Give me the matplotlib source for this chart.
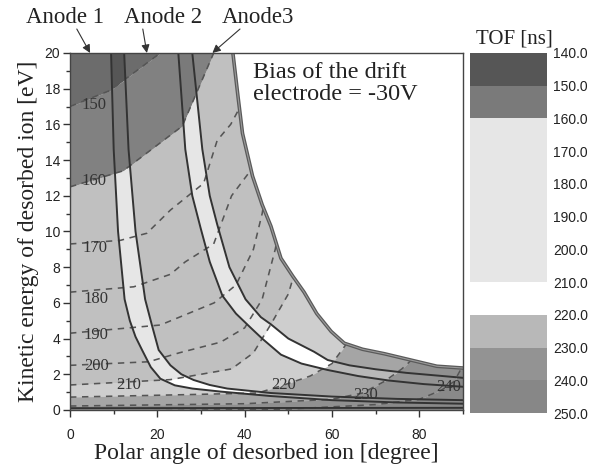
import numpy as np
import matplotlib.pyplot as plt
from matplotlib.ticker import MultipleLocator

plt.rcParams['font.family'] = 'Liberation Serif'

# TOF iso-lines [ns], read as (polar angle [deg], kinetic energy [eV])
tof_150 = [(0, 17.0), (9.2, 17.9), (20.7, 20.0), (25, 22.0), (90, 25.0)]
tof_160 = [(0, 12.5), (12.2, 13.4), (25.7, 15.9), (32.9, 20.0), (36, 23.0), (90, 25.0)]
tof_170 = [(0, 9.3), (11.5, 9.5), (17.6, 9.9), (23, 11.2), (30.6, 12.7), (33.7, 15.1),
           (36.8, 16.0), (39, 17.0), (41, 22.0), (90, 25.0)]
tof_180 = [(0, 6.6), (14.6, 6.9), (23, 7.6), (26.4, 8.3), (32.9, 9.3), (37, 12.0),
           (41, 13.3), (44, 17.0), (46, 22.0), (90, 25.0)]
tof_190 = [(0, 4.3), (20.7, 4.76), (33, 6.0), (38, 7.0), (42, 9.0), (44, 11.0),
           (46, 14.0), (90, 25.0)]
tof_200 = [(0, 2.5), (18, 2.7), (25, 3.2), (34.5, 3.8), (40, 4.6), (44, 6.2),
           (47, 9.0), (50, 13.0), (90, 25.0)]
tof_210 = [(0, 1.4), (23, 1.7), (37, 2.3), (42, 3.2), (46, 4.8), (50, 6.5),
           (53, 9.0), (56, 13.0), (90, 25.0)]
tof_220 = [(0, 0.72), (25, 0.85), (43, 0.95), (49, 1.4), (55, 1.9), (60, 2.6),
           (63, 3.6), (66, 5.5), (70, 9.0), (90, 25.0)]
tof_230 = [(0, 0.22), (40, 0.35), (60, 0.6), (67, 0.95), (72, 1.6), (76, 2.3),
           (80, 3.2), (85, 5.0), (90, 8.0)]
tof_240 = [(0, -0.1), (50, 0.05), (70, 0.3), (80, 0.6), (85, 1.1), (88, 1.6), (90, 2.5)]
tof_250 = [(0, -0.3), (90, -0.1)]

# anode boundaries (solid lines)
anode1_edge = [(9.4, 20), (10.0, 14.6), (11.0, 10.0), (12.5, 6.2), (13.7, 5.0), (15.0, 4.1),
               (16.5, 3.36), (18.5, 2.4), (20.7, 1.75), (24, 1.38), (28, 1.2), (34.5, 1.03),
               (46, 0.78), (60, 0.55), (75, 0.42), (90, 0.35)]
anode2_left = [(12.4, 20), (13.4, 14.6), (15.0, 10.0), (17.2, 6.2), (18.7, 4.8), (20.3, 3.36),
               (23, 2.5), (25.5, 2.0), (28.3, 1.68), (32, 1.4), (36, 1.2), (46, 0.95),
               (60, 0.75), (75, 0.62), (90, 0.55)]
anode2_right = [(24.8, 20), (26.4, 14.6), (28, 12), (29.9, 10.2), (32, 8.3), (34.9, 6.4),
                (38, 5.4), (41.4, 4.6), (44, 4.0), (48.3, 3.1), (53, 2.6), (59, 2.24),
                (66, 1.9), (73, 1.65), (81, 1.45), (90, 1.3)]
anode3_left = [(28, 20), (30.3, 14.6), (32, 12), (33.7, 10.4), (36.5, 8.0), (40.2, 6.2),
               (43.7, 5.2), (46, 4.8), (50, 4.0), (55.9, 3.26), (59, 2.8), (64, 2.5),
               (70, 2.28), (77, 2.08), (84, 1.93), (90, 1.8)]
bottom_edge = [(0, 0.1), (90, 0.12)]

# edge of the region where ions miss the detector
mask_edge = [(37.3, 20), (38.5, 17.5), (39.5, 15.5), (41.8, 13.1), (44, 11.5), (46, 10.3),
             (48.3, 8.5), (51, 7.5), (53.6, 6.6), (56.5, 5.4), (59.8, 4.4), (62.8, 3.74),
             (67, 3.4), (72, 3.15), (78, 2.8), (84, 2.45), (90, 2.35)]

cbar_levels = [140, 150, 160, 170, 180, 190, 200, 210, 220, 230, 240, 250]
cbar_colors = ['#565656', '#7a7a7a', '#e6e6e6', '#e6e6e6', '#e6e6e6', '#e6e6e6',
               '#e6e6e6', '#ffffff', '#b8b8b8', '#939393', '#878787']
below_color = '#707070'

label_values = [150, 160, 170, 180, 190, 200, 210, 220, 230, 240]
label_pos = [(5.6, 17.1), (5.6, 12.8), (5.7, 9.1), (6.0, 6.2), (6.0, 4.2), (6.2, 2.45),
             (13.4, 1.4), (49, 1.4), (67.6, 0.85), (86.7, 1.3)]

tof_lines = {150: tof_150, 160: tof_160, 170: tof_170, 180: tof_180, 190: tof_190,
             200: tof_200, 210: tof_210, 220: tof_220, 230: tof_230, 240: tof_240,
             250: tof_250}


def xy(pts):
    return [p[0] for p in pts], [p[1] for p in pts]


fig = plt.figure(figsize=(6, 4.68), dpi=100)
ax = fig.add_axes([0.1167, 0.124, 0.6550, 0.7628])

th = np.linspace(0, 90, 901)
upper = np.full_like(th, 20.0)
for lo, col in zip(cbar_levels[:-1], cbar_colors):
    a, e = xy(tof_lines[lo + 10])
    lower = np.clip(np.interp(th, a, e), 0, 20)
    ax.fill_between(th, lower, upper, color=col, lw=0, zorder=1)
    upper = lower
ax.fill_between(th, 0, upper, color=below_color, lw=0, zorder=1)

# anode areas are shaded darker, the gaps between anodes keep the plain colour
shade = dict(color='#8c8c8c', alpha=0.42, lw=0, zorder=2)
a, e = xy(anode1_edge)
ax.fill([0] + a + [90, 0], [20] + e + [0, 0], **shade)
a, e = xy(anode2_left + anode2_right[::-1])
ax.fill(a, e, **shade)
a, e = xy(anode3_left + [(90, 20)])
ax.fill(a, e, **shade)

for lev, pts in tof_lines.items():
    a, e = xy(pts)
    ax.plot(a, e, color='#555555', lw=1.15, ls=(0, (4, 3.5)), zorder=3)

for pts in [anode1_edge, anode2_left, anode2_right, anode3_left, bottom_edge]:
    a, e = xy(pts)
    ax.plot(a, e, color='#333333', lw=1.4, zorder=5)

a, e = xy(mask_edge)
ax.fill_between(a, e, 20, color='white', lw=0, zorder=6)
ax.plot(a, e, color='#5a5a5a', lw=2.6, zorder=7)
ax.plot(a, e, color='#9a9a9a', lw=0.8, zorder=7)

for v, (px, py) in zip(label_values, label_pos):
    ax.text(px, py, str(v), fontsize=12, color='#333333', ha='center', va='center', zorder=8)

ax.text(0.466, 0.975, 'Bias of the drift\nelectrode = -30V', transform=ax.transAxes,
        fontsize=17.5, va='top', ha='left', linespacing=1.05, color='#222222', zorder=9)

ax.set_xlim(0, 90)
ax.set_ylim(0, 20)
ax.xaxis.set_major_locator(MultipleLocator(20))
ax.xaxis.set_minor_locator(MultipleLocator(10))
ax.yaxis.set_major_locator(MultipleLocator(2))
ax.yaxis.set_minor_locator(MultipleLocator(1))
ax.tick_params(which='both', direction='out', width=1, color='#333333',
               labelsize=10, labelcolor='#222222', labelfontfamily='Liberation Sans')
ax.tick_params(which='major', length=5)
ax.tick_params(which='minor', length=3)
ax.tick_params(axis='x', pad=8)
ax.tick_params(axis='y', pad=2)
for s in ax.spines.values():
    s.set_color('#444444')
    s.set_linewidth(1)
    s.set_zorder(10)
ax.set_xlabel('Polar angle of desorbed ion [degree]', fontsize=17, color='#222222', labelpad=1)
ax.set_ylabel('Kinetic energy of desorbed ion [eV]', fontsize=17, color='#222222', labelpad=4)

# anode annotations above the plot
anode_names = ['Anode 1', 'Anode 2', 'Anode3']
anode_hits = [4.6, 17.6, 32.6]
name_x = [0.108, 0.272, 0.430]
tail_x = [0.128, 0.238, 0.400]
for name, hit, nx_, tx in zip(anode_names, anode_hits, name_x, tail_x):
    fig.text(nx_, 0.962, name, fontsize=16.5, ha='center', va='center', color='#222222')
    ax.annotate('', xy=(hit, 20), xycoords='data', xytext=(tx, 0.938),
                textcoords='figure fraction',
                arrowprops=dict(arrowstyle='-|>', lw=0.8, color='#333333',
                                shrinkA=0, shrinkB=0, mutation_scale=12))

# colour bar
cax = fig.add_axes([0.783, 0.1175, 0.129, 0.7693])
for lo, col in zip(cbar_levels[:-1], cbar_colors):
    cax.bar(0.5, 10, bottom=lo, width=1, color=col, edgecolor='none')
cax.set_xlim(0, 1)
cax.set_ylim(250, 140)
cax.yaxis.tick_right()
cax.set_yticks(cbar_levels)
cax.set_yticklabels([f'{v:.1f}' for v in cbar_levels])
cax.tick_params(length=0, pad=4, labelsize=10, labelcolor='#222222',
                labelfontfamily='Liberation Sans')
cax.set_xticks([])
for s in cax.spines.values():
    s.set_visible(False)
fig.text(0.857, 0.917, 'TOF [ns]', fontsize=15, ha='center', va='center', color='#222222')

fig.savefig('out.png', dpi=100)
